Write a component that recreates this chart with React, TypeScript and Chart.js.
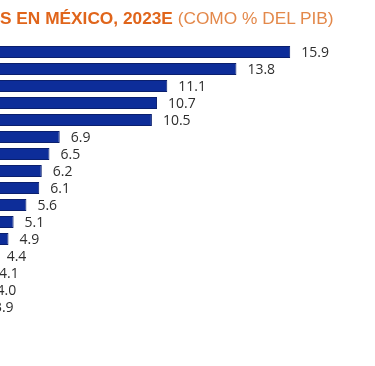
import React, { useEffect, useRef } from "react";
import { Chart, registerables } from "chart.js";

Chart.register(...registerables);

const categories = [
  "C1", "C2", "C3", "C4", "C5", "C6", "C7", "C8",
  "C9", "C10", "C11", "C12", "C13", "C14", "C15", "C16",
];
const values = [15.9, 13.8, 11.1, 10.7, 10.5, 6.9, 6.5, 6.2, 6.1, 5.6, 5.1, 4.9, 4.4, 4.1, 4.0, 3.9];
const titleBold = "S EN MÉXICO, 2023E";
const titleLight = " (COMO % DEL PIB)";

const valueLabels = {
  id: "valueLabels",
  afterDatasetsDraw(chart: any) {
    const ctx = chart.ctx;
    const meta = chart.getDatasetMeta(0);
    ctx.save();
    ctx.font = "14px 'Open Sans'";
    ctx.fillStyle = "#2e2e2e";
    ctx.textAlign = "left";
    ctx.textBaseline = "middle";
    meta.data.forEach((bar: any, i: number) => {
      ctx.fillText(values[i].toFixed(1), bar.x + 11, bar.y + 1);
    });
    ctx.restore();
  },
};

export default function App() {
  const ref = useRef<HTMLCanvasElement | null>(null);
  useEffect(() => {
    if (!ref.current) return;
    const chart = new Chart(ref.current, {
      type: "bar",
      data: {
        labels: categories,
        datasets: [
          {
            data: values,
            backgroundColor: "#0d2d99",
            borderColor: "#0a1f6e",
            borderWidth: 1,
            categoryPercentage: 1,
            barPercentage: 0.72,
          },
        ],
      },
      options: {
        indexAxis: "y",
        responsive: false,
        animation: false,
        devicePixelRatio: 1,
        layout: { padding: { left: 13, right: 31, top: 43.5, bottom: 50.5 } },
        scales: {
          x: { display: false, min: 0, max: 18 },
          y: { display: false },
        },
        plugins: { legend: { display: false }, tooltip: { enabled: false } },
      },
      plugins: [valueLabels],
    });
    return () => chart.destroy();
  }, []);

  return (
    <div
      style={{
        position: "fixed",
        left: 0,
        top: 0,
        width: 375,
        height: 366,
        overflow: "hidden",
        background: "#ffffff",
      }}
    >
      <canvas
        ref={ref}
        width={505}
        height={366}
        style={{ position: "absolute", left: -130, top: 0, width: 505, height: 366 }}
      />
      <div
        style={{
          position: "absolute",
          left: 0,
          top: 6,
          fontFamily: "'Liberation Sans', Arial, sans-serif",
          fontSize: 17.3,
          lineHeight: "24px",
          whiteSpace: "nowrap",
        }}
      >
        <span style={{ fontWeight: 700, color: "#e0651b" }}>{titleBold}</span>
        <span style={{ color: "#e3884a" }}>{titleLight}</span>
      </div>
    </div>
  );
}
